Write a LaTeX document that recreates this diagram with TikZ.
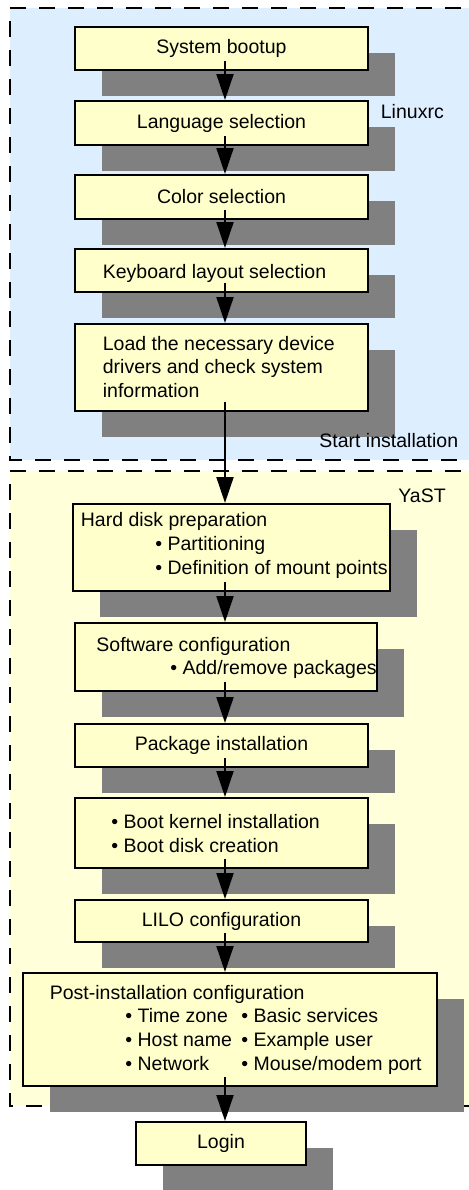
\documentclass[tikz,border=0pt]{standalone}
\usepackage{fontspec}
\setmainfont{Liberation Sans}
\usetikzlibrary{arrows.meta,shadows,calc}
\definecolor{regblue}{RGB}{221,238,255}
\definecolor{regyellow}{RGB}{255,255,218}
\definecolor{boxfill}{RGB}{255,255,204}
\definecolor{shade}{RGB}{128,128,128}
\def\pxu{0.5pt}
\begin{document}
\begin{tikzpicture}[x=0.5pt,y=-0.5pt,
  box/.style={draw=black, line width=1pt, fill=boxfill, inner sep=0pt,
    font=\fontsize{9.75pt}{11.7pt}\selectfont,
    general shadow={fill=shade, shadow xshift=13.5pt, shadow yshift=-13pt}},
  txt/.style={inner sep=0pt, anchor=base west, font=\fontsize{9.75pt}{11.7pt}\selectfont},
  region/.style={dash pattern=on 8pt off 6.5pt, line width=1.2pt},
  flow/.style={line width=1pt, -{Triangle[length=13pt,width=8.5pt]}, shorten <=-5pt}]
\useasboundingbox (0,0) rectangle (469,1190);
\clip (0,0) rectangle (469,1190);

% regions
\fill[regblue] (10,8) rectangle (490,460);
\draw[region] (490,8) -- (10,8) -- (10,460) -- (490,460);
\fill[regyellow] (10,471) rectangle (490,1106);
\draw[region] (490,471) -- (10,471) -- (10,1106) -- (490,1106);

\coordinate (ax) at (225,0);

% boxes
\node[box, minimum width={293*\pxu}, minimum height={43*\pxu}] (n1) at (221.5,48.5) {System bootup};
\node[box, minimum width={293*\pxu}, minimum height={44*\pxu}] (n2) at (221.5,123) {Language selection};
\node[box, minimum width={293*\pxu}, minimum height={44*\pxu}] (n3) at (221.5,197) {Color selection};
\node[box, minimum width={293*\pxu}, minimum height={43*\pxu}] (n4) at (221.5,270.5) {};
\node[box, minimum width={293*\pxu}, minimum height={87*\pxu}] (n5) at (221.5,367.5) {};
\node[box, minimum width={317*\pxu}, minimum height={87*\pxu}] (n6) at (231.5,547.5) {};
\node[box, minimum width={302*\pxu}, minimum height={68*\pxu}] (n7) at (226,657) {};
\node[box, minimum width={293*\pxu}, minimum height={43*\pxu}] (n8) at (221.5,745.5) {Package installation};
\node[box, minimum width={293*\pxu}, minimum height={70*\pxu}] (n9) at (221.5,833) {};
\node[box, minimum width={293*\pxu}, minimum height={42*\pxu}] (n10) at (221.5,921) {LILO configuration};
\node[box, minimum width={414*\pxu}, minimum height={113*\pxu}] (n11) at (230,1029.5) {};
\node[box, minimum width={170*\pxu}, minimum height={43*\pxu}] (n12) at (221,1143.5) {Login};

% texts inside boxes
\node[txt] (t4) at (102.5,278) {Keyboard layout selection};
\node[txt] (t5a) at (102.5,350) {Load the necessary device};
\node[txt] (t5b) at (102.5,373.5) {drivers and check system};
\node[txt] (t5c) at (102.5,397) {information};
\node[txt] (t6a) at (80.5,526) {Hard disk preparation};
\node[txt] (t6b) at (155,550) {• Partitioning};
\node[txt] (t6c) at (155,574) {• Definition of mount points};
\node[txt] (t7a) at (96,651) {Software configuration};
\node[txt] (t7b) at (170,674) {• Add/remove packages};
\node[txt] (t9a) at (111,828) {• Boot kernel installation};
\node[txt] (t9b) at (111,852) {• Boot disk creation};
\node[txt] (t11) at (49.5,999) {Post-installation configuration};
\node[txt] (t11a) at (125,1022) {• Time zone};
\node[txt] (t11b) at (125,1046) {• Host name};
\node[txt] (t11c) at (125,1070) {• Network};
\node[txt] (t11d) at (241,1022) {• Basic services};
\node[txt] (t11e) at (241,1046) {• Example user};
\node[txt] (t11f) at (241,1070) {• Mouse/modem port};

% region labels
\node[txt] (linuxrc) at (380.5,118) {Linuxrc};
\node[txt] (start) at (319,447) {Start installation};
\node[txt] (yast) at (398,502) {YaST};

% connectors
\draw[flow] (n1.south -| ax) -- (n2.north -| ax);
\draw[flow] (n2.south -| ax) -- (n3.north -| ax);
\draw[flow] (n3.south -| ax) -- (n4.north -| ax);
\draw[flow] (n4.south -| ax) -- (n5.north -| ax);
\draw[flow] (n5.south -| ax) -- (n6.north -| ax);
\draw[flow] (n6.south -| ax) -- (n7.north -| ax);
\draw[flow] (n7.south -| ax) -- (n8.north -| ax);
\draw[flow] (n8.south -| ax) -- (n9.north -| ax);
\draw[flow] (n9.south -| ax) -- (n10.north -| ax);
\draw[flow] (n10.south -| ax) -- (n11.north -| ax);
\draw[flow] (n11.south -| ax) -- (n12.north -| ax);
\end{tikzpicture}
\end{document}
